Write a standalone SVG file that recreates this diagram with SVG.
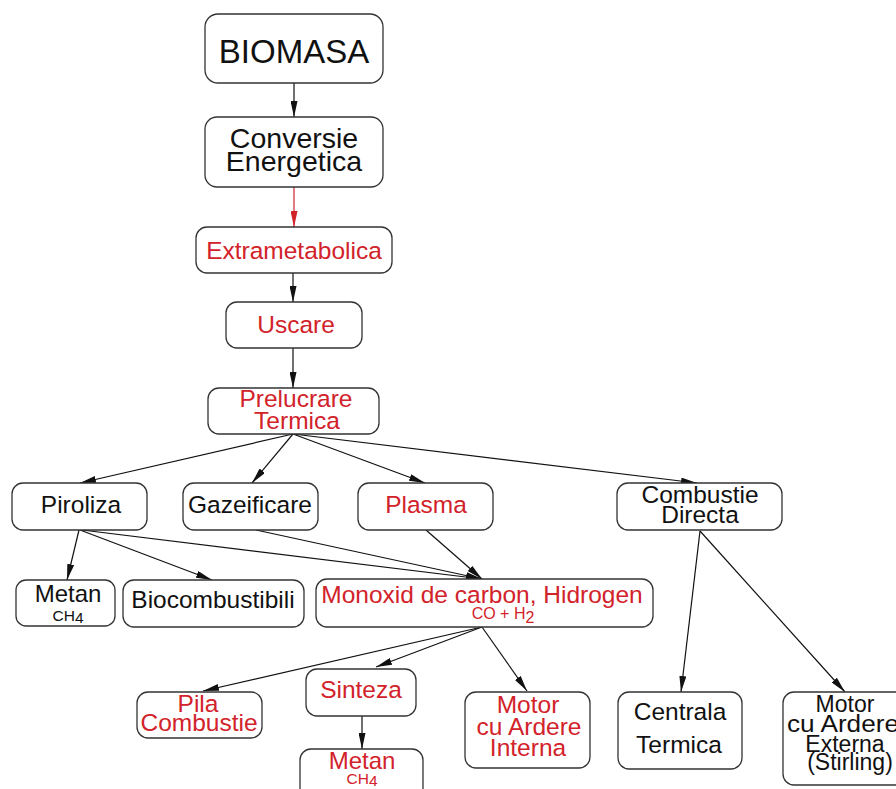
<svg xmlns="http://www.w3.org/2000/svg" width="896" height="789" viewBox="0 0 896 789">
<defs>
<style>
.b{fill:#fff;stroke:#333;stroke-width:1.3}
.t{font-family:"Liberation Sans",Arial,sans-serif;font-size:24.5px;text-anchor:middle;fill:#111}
.r{fill:#d2222a}
.s{font-size:15.5px}
.c{stroke:#111;stroke-width:1.2;fill:none;marker-end:url(#a)}
.cr{stroke:#d2222a;stroke-width:1.2;fill:none;marker-end:url(#ar)}
</style>
<marker id="a" markerWidth="16" markerHeight="7" refX="16" refY="3.5" orient="auto" markerUnits="userSpaceOnUse"><path d="M0,0 L16,3.5 L0,7 z" fill="#111"/></marker>
<marker id="ar" markerWidth="16" markerHeight="7" refX="16" refY="3.5" orient="auto" markerUnits="userSpaceOnUse"><path d="M0,0 L16,3.5 L0,7 z" fill="#d2222a"/></marker>
</defs>
<rect width="896" height="789" fill="#fff"/>
<g id="connectors">
<line class="c" x1="294" y1="83" x2="294" y2="117"/>
<line class="cr" x1="294" y1="187" x2="294" y2="227"/>
<line class="c" x1="293" y1="273" x2="293" y2="302"/>
<line class="c" x1="293" y1="348" x2="293" y2="388"/>
<line class="c" x1="293" y1="434" x2="80" y2="483"/>
<line class="c" x1="293" y1="434" x2="252" y2="483"/>
<line class="c" x1="293" y1="434" x2="425" y2="483"/>
<line class="c" x1="293" y1="434" x2="697" y2="483"/>
<line class="c" x1="79" y1="530" x2="67" y2="580"/>
<line class="c" x1="80" y1="530" x2="212" y2="580"/>
<line class="c" x1="82" y1="530" x2="482" y2="579"/>
<line class="c" x1="256" y1="530" x2="482" y2="579"/>
<line class="c" x1="426" y1="530" x2="482" y2="579"/>
<line class="c" x1="482" y1="627" x2="203" y2="691"/>
<line class="c" x1="482" y1="627" x2="376" y2="667"/>
<line class="c" x1="482" y1="627" x2="527" y2="691"/>
<line class="c" x1="362" y1="716" x2="362" y2="749"/>
<line class="c" x1="700" y1="531" x2="681" y2="692"/>
<line class="c" x1="700" y1="531" x2="845" y2="692"/>
</g>
<g id="biomasa"><rect class="b" x="205" y="14" width="178" height="69" rx="13"/><text class="t" x="294" y="63" style="font-size:33px">BIOMASA</text></g>
<g id="conversie"><rect class="b" x="205" y="117" width="178" height="70" rx="12"/><text class="t" x="294" y="148" style="font-size:28.5px">Conversie</text><text class="t" x="294" y="171" style="font-size:28.5px">Energetica</text></g>
<g id="extrametabolica"><rect class="b" x="196" y="227" width="196" height="46" rx="11"/><text class="t r" x="294" y="259">Extrametabolica</text></g>
<g id="uscare"><rect class="b" x="226" y="302" width="136" height="46" rx="11"/><text class="t r" x="296" y="333">Uscare</text></g>
<g id="prelucrare"><rect class="b" x="208" y="388" width="171" height="46" rx="11"/><text class="t r" x="296" y="407">Prelucrare</text><text class="t r" x="297" y="429">Termica</text></g>
<g id="piroliza"><rect class="b" x="12" y="483" width="135" height="47" rx="11"/><text class="t" x="81" y="513">Piroliza</text></g>
<g id="gazeificare"><rect class="b" x="183" y="483" width="135" height="47" rx="11"/><text class="t" x="250" y="513">Gazeificare</text></g>
<g id="plasma"><rect class="b" x="358" y="483" width="135" height="47" rx="11"/><text class="t r" x="426" y="513">Plasma</text></g>
<g id="combustie"><rect class="b" x="617" y="483" width="165" height="47" rx="11"/><text class="t" x="700" y="503">Combustie</text><text class="t" x="700" y="523">Directa</text></g>
<g id="metan1"><rect class="b" x="16" y="580" width="99" height="46" rx="10"/><text class="t" x="68" y="602" style="font-size:24px">Metan</text><text class="t s" x="68" y="621">CH<tspan dy="2">4</tspan></text></g>
<g id="biocombustibili"><rect class="b" x="123" y="580" width="181" height="47" rx="11"/><text class="t" x="213" y="608">Biocombustibili</text></g>
<g id="monoxid"><rect class="b" x="316" y="579" width="337" height="48" rx="11"/><text class="t r" x="482" y="603">Monoxid de carbon, Hidrogen</text><text class="t r" x="503" y="619" style="font-size:16px">CO + H<tspan dy="4">2</tspan></text></g>
<g id="pila"><rect class="b" x="137" y="692" width="125" height="46" rx="11"/><text class="t r" x="198" y="712">Pila</text><text class="t r" x="199" y="731">Combustie</text></g>
<g id="sinteza"><rect class="b" x="306" y="669" width="110" height="47" rx="11"/><text class="t r" x="361" y="698">Sinteza</text></g>
<g id="metan2"><rect class="b" x="300" y="749" width="123" height="60" rx="11"/><text class="t r" x="362" y="769" style="font-size:24px">Metan</text><text class="t r s" x="362" y="784">CH<tspan dy="2">4</tspan></text></g>
<g id="motor-interna"><rect class="b" x="465" y="692" width="125" height="76" rx="11"/><text class="t r" x="528" y="713">Motor</text><text class="t r" x="529" y="735">cu Ardere</text><text class="t r" x="528" y="756">Interna</text></g>
<g id="centrala"><rect class="b" x="618" y="692" width="124" height="77" rx="11"/><text class="t" x="680" y="720">Centrala</text><text class="t" x="679" y="753">Termica</text></g>
<g id="motor-externa"><rect class="b" x="783" y="692" width="130" height="93" rx="11"/><text class="t" x="845" y="712" style="font-size:23px">Motor</text><text class="t" x="843" y="732" style="font-size:23px" textLength="112" lengthAdjust="spacingAndGlyphs">cu Ardere</text><text class="t" x="845" y="752" style="font-size:23px">Externa</text><text class="t" x="850" y="770" style="font-size:23px">(Stirling)</text></g>
</svg>
